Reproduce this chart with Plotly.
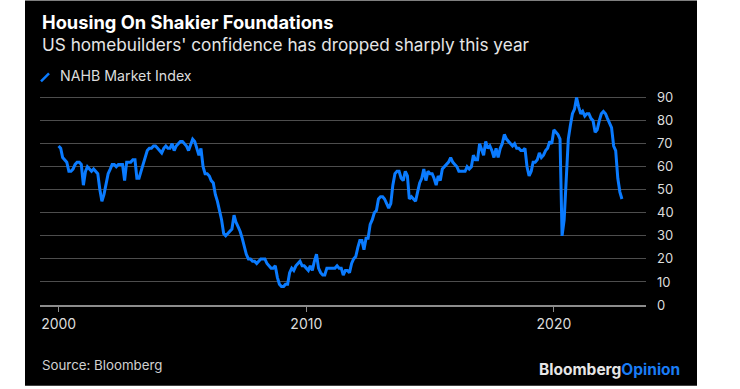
import pandas as pd
import plotly.graph_objects as go

# ---- data (NAHB Housing Market Index, monthly, month-end) ----
start_month = "1999-12"
v1999 = [69]
v2000 = [68, 64, 63, 62, 58, 58, 59, 61, 62, 62, 61, 52]
v2001 = [58, 60, 59, 58, 59, 58, 57, 50, 45, 48, 52, 57]
v2002 = [59, 61, 61, 60, 61, 61, 61, 54, 62, 62, 62, 63]
v2003 = [63, 55, 55, 58, 61, 64, 67, 68, 68, 69, 69, 68]
v2004 = [67, 66, 68, 69, 68, 68, 70, 67, 69, 70, 71, 71]
v2005 = [70, 69, 67, 70, 72, 71, 68, 65, 68, 60, 57, 57]
v2006 = [56, 54, 53, 48, 45, 41, 37, 31, 30, 31, 32, 33]
v2007 = [39, 36, 34, 32, 29, 25, 22, 20, 20, 19, 19, 18]
v2008 = [19, 20, 20, 20, 18, 17, 16, 16, 17, 12, 9, 8]
v2009 = [8, 9, 9, 14, 16, 15, 17, 18, 19, 17, 17, 16]
v2010 = [15, 17, 15, 19, 22, 16, 14, 13, 13, 16, 16, 16]
v2011 = [16, 16, 17, 16, 16, 13, 15, 15, 14, 18, 20, 21]
v2012 = [25, 28, 28, 24, 29, 29, 35, 37, 40, 41, 46, 47]
v2013 = [47, 46, 44, 42, 44, 52, 57, 58, 58, 55, 54, 58]
v2014 = [56, 46, 47, 46, 45, 49, 53, 55, 59, 54, 58, 57]
v2015 = [57, 55, 52, 56, 54, 59, 60, 61, 62, 64, 62, 61]
v2016 = [60, 58, 58, 58, 58, 60, 59, 60, 65, 63, 63, 70]
v2017 = [67, 65, 71, 68, 69, 67, 64, 68, 64, 68, 70, 74]
v2018 = [72, 71, 70, 69, 70, 68, 68, 67, 67, 68, 60, 56]
v2019 = [58, 62, 62, 63, 66, 64, 65, 67, 68, 71, 70, 76]
v2020 = [75, 74, 72, 30, 37, 58, 72, 78, 83, 85, 90, 86]
v2021 = [83, 84, 82, 83, 83, 81, 80, 75, 76, 80, 83, 84]
v2022 = [83, 81, 79, 77, 69, 67, 55, 49, 46]

x_tick_vals = ["2000-01-01", "2010-01-01", "2020-01-01"]
x_tick_text = ["2000", "2010", "2020"]
y_tick_vals = [0, 10, 20, 30, 40, 50, 60, 70, 80, 90]

values = (v1999 + v2000 + v2001 + v2002 + v2003 + v2004 + v2005 + v2006 + v2007 +
          v2008 + v2009 + v2010 + v2011 + v2012 + v2013 + v2014 + v2015 + v2016 +
          v2017 + v2018 + v2019 + v2020 + v2021 + v2022)
dates = (pd.period_range(start=start_month, periods=len(values), freq="M")
         .to_timestamp(how="end").normalize())

BLUE = "#0a7bff"
FONT = "Inter"

# plot-area geometry helpers (pixels of the 740x389 canvas)
L, R, T, B = 40, 646, 92.6, 305
W, H = R - L, B - T
def px(x):
    return (x - L) / W
def py(y):
    return (B - y) / H

fig = go.Figure()
fig.add_trace(go.Scatter(x=dates, y=values, mode="lines",
                         line=dict(color=BLUE, width=3),
                         name="NAHB Market Index", showlegend=False,
                         hoverinfo="x+y"))

fig.update_layout(
    width=740, height=389,
    margin=dict(l=L, r=740 - R, t=T, b=389 - B, pad=0),
    paper_bgcolor="white",
    plot_bgcolor="rgba(0,0,0,0)",
    font=dict(family=FONT, color="#d9d9d9"),
    xaxis=dict(type="date", range=["1999-04-01", "2023-09-20"],
               tickvals=x_tick_vals, ticktext=x_tick_text,
               tickfont=dict(family=FONT, size=14, color="#dcdcdc"),
               ticks="outside", ticklen=5, tickwidth=1, tickcolor="#8c8c8c",
               showline=True, linecolor="#8c8c8c", linewidth=1.5,
               showgrid=False, zeroline=False, fixedrange=True),
    yaxis=dict(side="right", range=[0, 92], tickvals=y_tick_vals,
               tickfont=dict(family=FONT, size=13, color="#dcdcdc"),
               ticks="", ticklabelstandoff=10,
               showgrid=True, gridcolor="#4d4d4d", gridwidth=1,
               zeroline=False, showline=False, fixedrange=True),
    shapes=[
        dict(type="rect", xref="paper", yref="paper", layer="below",
             x0=px(25), x1=px(697), y0=py(386), y1=py(0),
             fillcolor="black", line=dict(width=0)),
        dict(type="line", xref="paper", yref="paper",
             x0=px(41), y0=py(81), x1=px(49), y1=py(73),
             line=dict(color=BLUE, width=2.5)),
    ],
    annotations=[
        dict(text="<b>Housing On Shakier Foundations</b>", xref="paper", yref="paper",
             x=px(40), y=py(21), xanchor="left", yanchor="middle", showarrow=False,
             font=dict(family=FONT, size=18.3, color="#ffffff")),
        dict(text="US homebuilders' confidence has dropped sharply this year",
             xref="paper", yref="paper", x=px(40), y=py(44), xanchor="left",
             yanchor="middle", showarrow=False,
             font=dict(family=FONT, size=17.2, color="#e6e6e6")),
        dict(text="NAHB Market Index", xref="paper", yref="paper",
             x=px(58), y=py(75), xanchor="left", yanchor="middle", showarrow=False,
             font=dict(family=FONT, size=14.2, color="#dcdcdc")),
        dict(text="Source: Bloomberg", xref="paper", yref="paper",
             x=px(40), y=py(365), xanchor="left", yanchor="middle", showarrow=False,
             font=dict(family=FONT, size=13.3, color="#d0d0d0")),
        dict(text="<b><span style='color:#e6e6e6'>Bloomberg</span>"
                  "<span style='color:#1a7cf5'>Opinion</span></b>",
             xref="paper", yref="paper", x=px(682), y=py(370), xanchor="right",
             yanchor="middle", showarrow=False,
             font=dict(family=FONT, size=15.5, color="#e6e6e6")),
    ],
)

fig.write_html("out.html", config={"displayModeBar": False},
               post_script="document.body.style.margin='0';")
